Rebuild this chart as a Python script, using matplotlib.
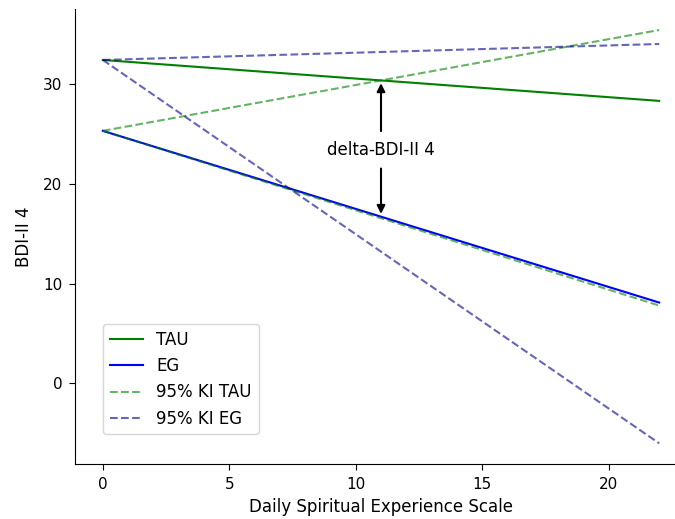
import matplotlib
matplotlib.use("Agg")
import matplotlib.pyplot as plt
import numpy as np

# Daily Spiritual Experience Scale (x) endpoints
x = [0, 22]

# regression lines, BDI-II 4
tau = [32.4, 28.3]
eg = [25.3, 8.1]

# 95% confidence bounds
ki_tau_upper = [25.3, 35.4]
ki_tau_lower = [25.3, 7.8]
ki_eg_upper = [32.4, 34.0]
ki_eg_lower = [32.4, -6.0]

# annotation
delta_x = 11
delta_text_y = 23.4
delta_top = 30.35
delta_bottom = 16.7


def main():
    plt.rcParams["font.size"] = 12
    plt.rcParams["xtick.labelsize"] = 11
    plt.rcParams["ytick.labelsize"] = 11
    plt.rcParams["xtick.major.size"] = 4
    plt.rcParams["ytick.major.size"] = 4.5
    plt.rcParams["xtick.major.pad"] = 5.5
    plt.rcParams["ytick.major.pad"] = 4.5

    fig = plt.figure(figsize=(6.75, 5.19), dpi=100)
    ax = fig.add_axes([0.1111, 0.106, 0.9067, 0.876])

    ax.plot(x, tau, color="green", label="TAU")
    ax.plot(x, eg, color="blue", label="EG")
    ax.plot(x, ki_tau_upper, color="green", alpha=0.6, linestyle="--", label="95% KI TAU")
    ax.plot(x, ki_tau_lower, color="green", alpha=0.6, linestyle="--")
    ax.plot(x, ki_eg_upper, color="darkblue", alpha=0.6, linestyle="--", label="95% KI EG")
    ax.plot(x, ki_eg_lower, color="darkblue", alpha=0.6, linestyle="--")

    # pfeile zum delta
    arrow = dict(arrowstyle="-|>", color="black", lw=1.5, shrinkA=5)
    ax.annotate("delta-BDI-II 4", xy=(delta_x, delta_top), xytext=(delta_x, delta_text_y),
                ha="center", va="center", arrowprops=arrow)
    ax.annotate("delta-BDI-II 4", xy=(delta_x, delta_bottom), xytext=(delta_x, delta_text_y),
                ha="center", va="center", arrowprops=arrow, alpha=0)

    ax.spines["top"].set_visible(False)
    ax.spines["right"].set_visible(False)
    ax.set_xlabel("Daily Spiritual Experience Scale")
    ax.set_ylabel("BDI-II 4", labelpad=7.5)

    ax.legend(loc="lower left", bbox_to_anchor=(0.046, 0.065), borderaxespad=0)

    fig.savefig("out.png", dpi=100)


if __name__ == "__main__":
    main()
